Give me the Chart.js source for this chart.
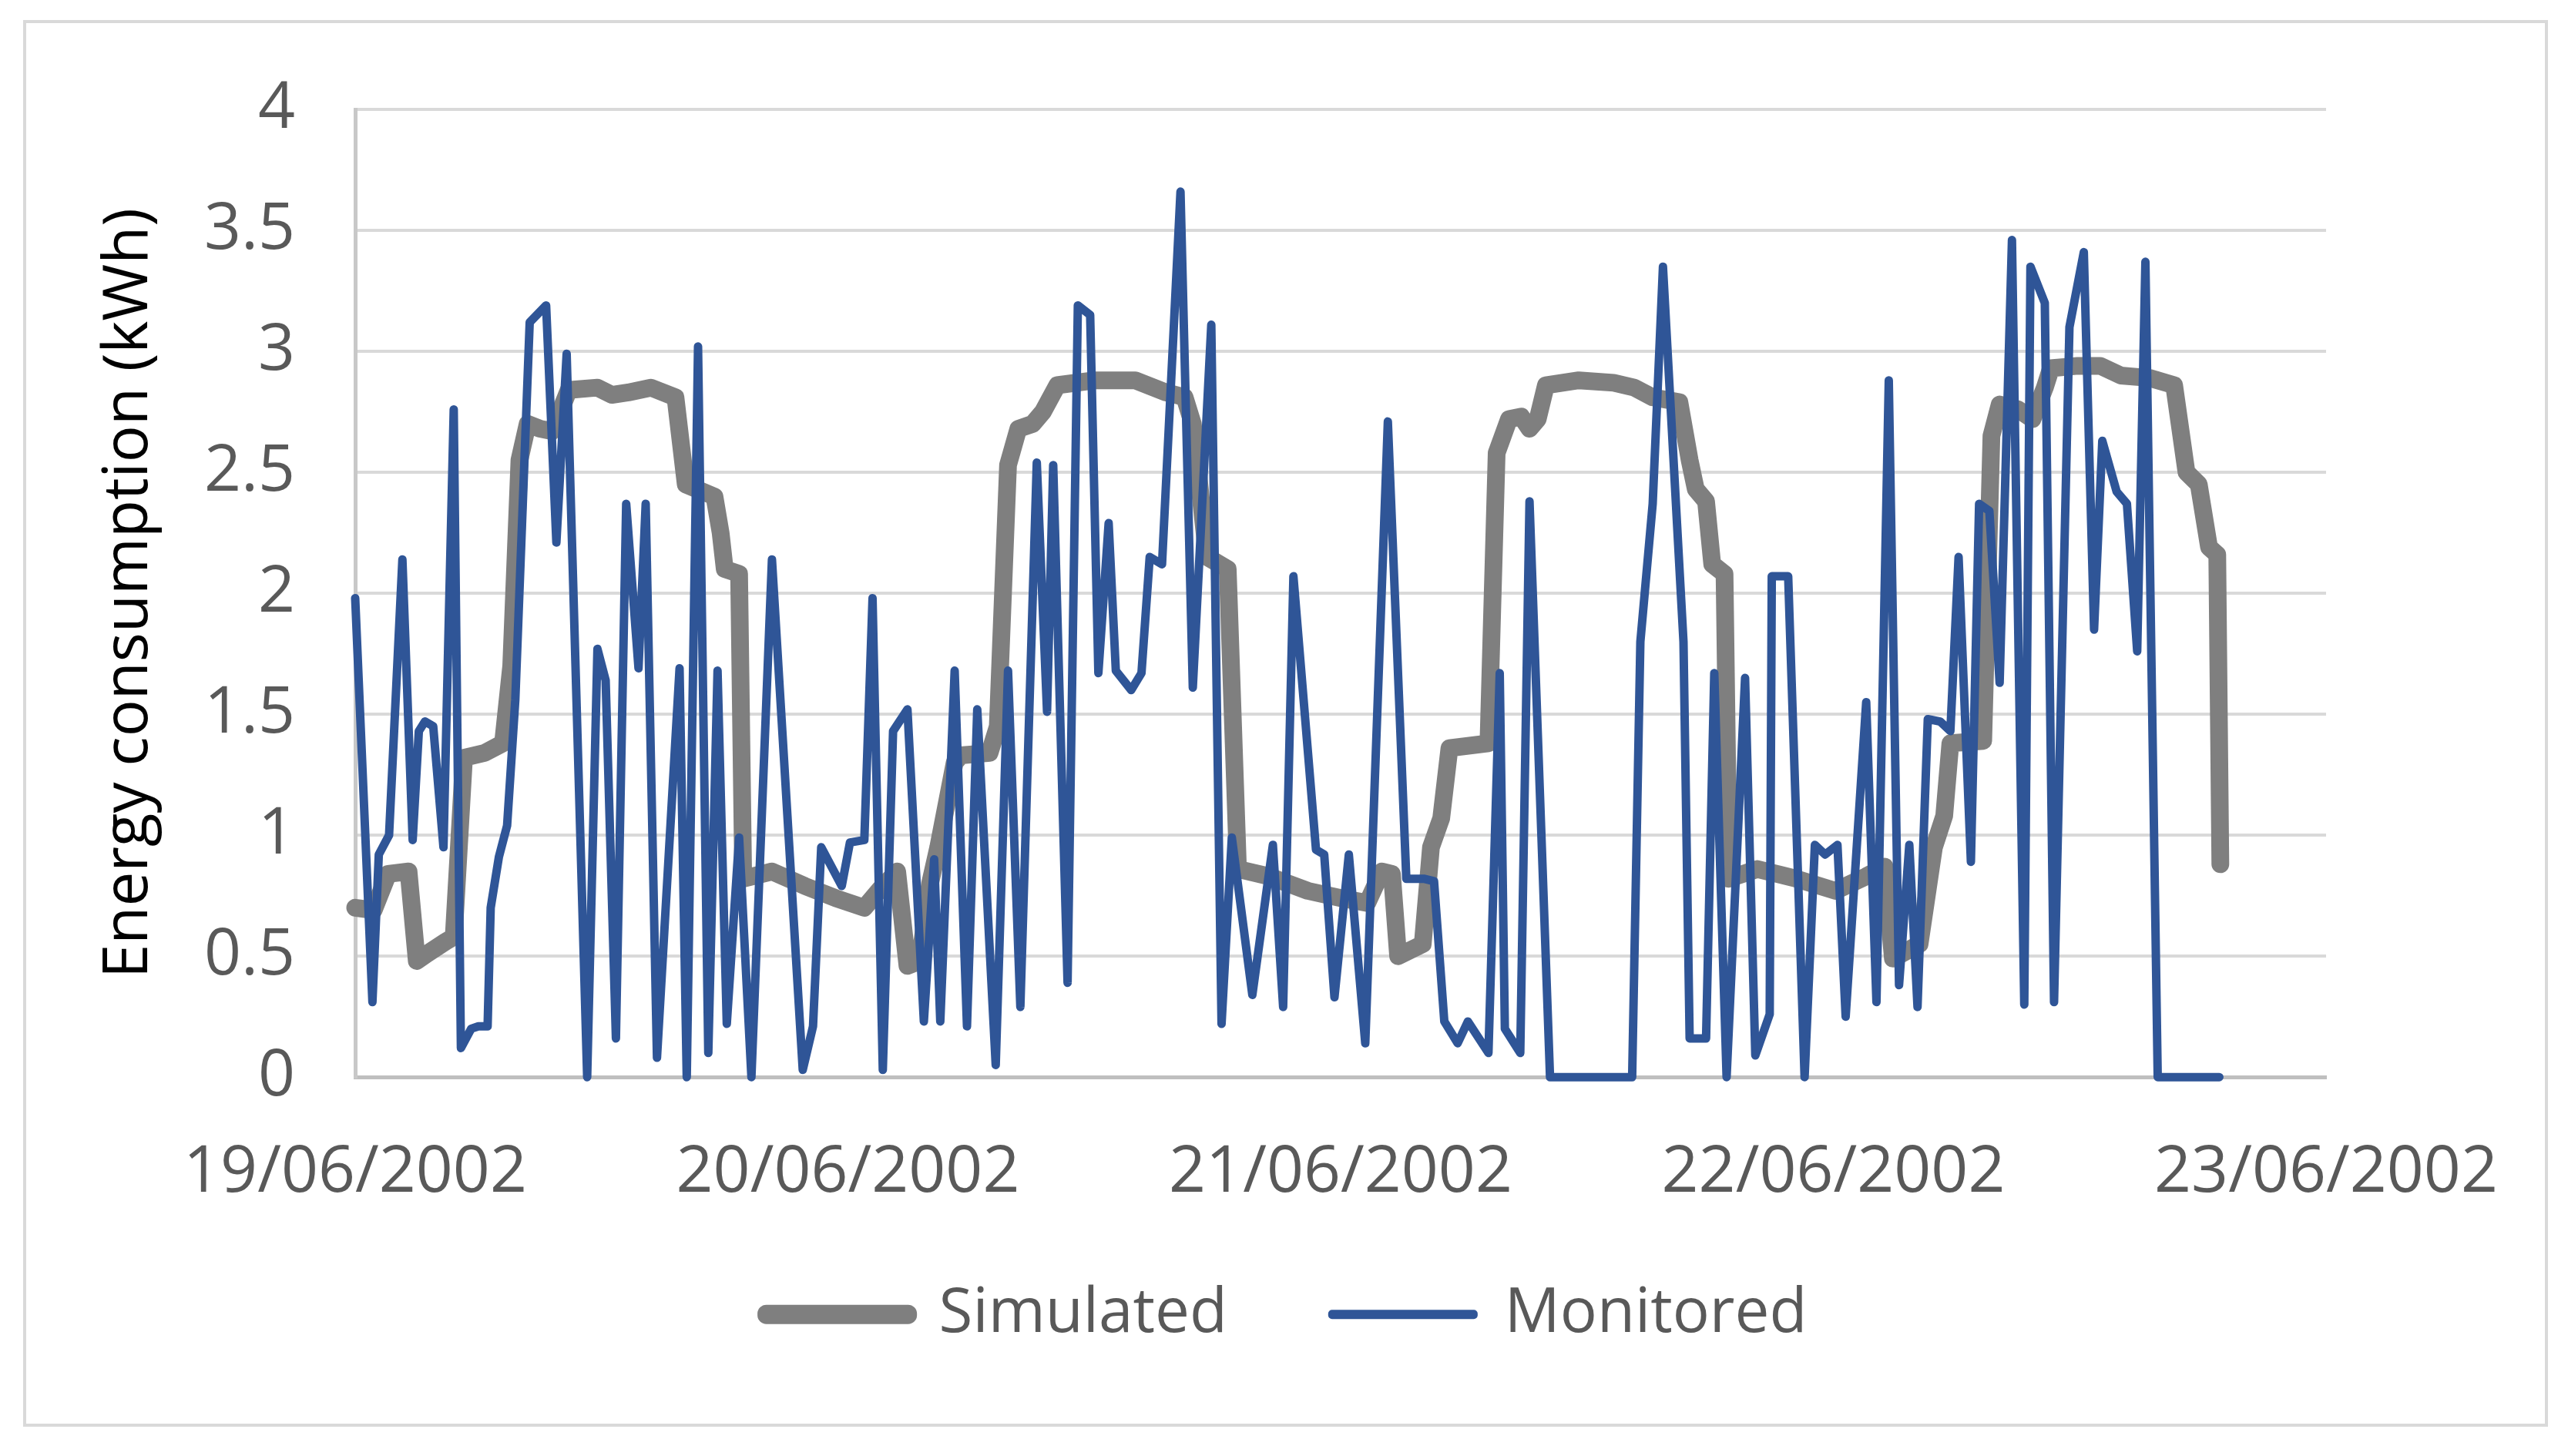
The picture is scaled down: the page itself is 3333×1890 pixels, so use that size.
<!DOCTYPE html>
<html>
<head>
<meta charset="utf-8">
<script src="https://cdn.jsdelivr.net/npm/chart.js@4.4.0/dist/chart.umd.min.js"></script>
<style>
  html, body { margin: 0; padding: 0; background: #fff; }
  #wrap { position: relative; width: 3333px; height: 1890px; }
  #frame { position: absolute; left: 30px; top: 26px; width: 3277px; height: 1826px; border: 4px solid #d9d9d9; box-sizing: border-box; }
  canvas { position: absolute; left: 0; top: 0; }
</style>
</head>
<body>
<div id="wrap">
  <div id="frame"></div>
  <canvas id="myChart" width="3333" height="1890"></canvas>
</div>
<script>
// x ticks, one per day (hours from 19/06 00:00)
const dayLabels = ["19/06/2002", "20/06/2002", "21/06/2002", "22/06/2002", "23/06/2002"];

// simulated series: hours since start, kWh
const simHours = [0, 0.9, 1.6, 2.6, 3.0, 3.5, 4.4, 4.8, 5.3, 6.3, 7.2, 7.6, 8.0, 8.4, 9.0, 9.6, 10.4, 11.8, 12.5, 13.3,
  14.4, 15.6, 16.1, 17.5, 17.8, 18.0, 18.7, 18.9, 20.3, 21.9, 23.4, 24.8, 25.6, 26.4, 26.9, 27.5, 28.0, 28.4, 29.2, 29.5,
  30.9, 31.3, 31.8, 32.3, 33.0, 33.5, 34.2, 36.0, 38.0, 39.5, 40.4, 40.8, 41.5, 42.5, 43.0, 44.5, 46.4, 48.0, 49.3, 50.0,
  50.5, 50.8, 52.0, 52.4, 52.9, 53.3, 55.2, 55.6, 56.2, 56.8, 57.2, 57.6, 58.0, 59.6, 61.3, 62.3, 63.2, 64.5, 65.0, 65.3,
  65.8, 66.1, 66.7, 66.9, 68.3, 70.2, 72.1, 73.6, 74.5, 74.9, 76.2, 76.9, 77.4, 77.7, 79.3, 79.7, 80.1, 81.0, 81.7, 82.3,
  82.6, 83.9, 85.0, 86.0, 87.4, 88.6, 89.2, 89.8, 90.3, 90.7, 90.85];
const simValues = [0.70, 0.69, 0.84, 0.85, 0.48, 0.51, 0.56, 0.58, 1.32, 1.34, 1.38, 1.70, 2.55, 2.70, 2.68, 2.67, 2.84, 2.85, 2.82, 2.83,
  2.85, 2.81, 2.45, 2.40, 2.25, 2.10, 2.08, 0.82, 0.85, 0.79, 0.74, 0.70, 0.78, 0.85, 0.46, 0.48, 0.80, 0.95, 1.30, 1.33,
  1.34, 1.45, 2.53, 2.68, 2.70, 2.75, 2.86, 2.88, 2.88, 2.83, 2.81, 2.70, 2.15, 2.10, 0.86, 0.83, 0.77, 0.74, 0.72, 0.85,
  0.84, 0.50, 0.55, 0.95, 1.07, 1.36, 1.38, 2.58, 2.72, 2.73, 2.68, 2.72, 2.86, 2.88, 2.87, 2.85, 2.81, 2.79, 2.55, 2.43,
  2.38, 2.12, 2.08, 0.82, 0.86, 0.82, 0.77, 0.83, 0.87, 0.49, 0.55, 0.95, 1.08, 1.38, 1.39, 2.65, 2.78, 2.76, 2.72, 2.85,
  2.93, 2.94, 2.94, 2.90, 2.89, 2.86, 2.50, 2.45, 2.19, 2.16, 0.88];

// monitored series: hours since start, kWh
const monHours = [0, 0.84, 1.15, 1.65, 2.3, 2.8, 3.1, 3.4, 3.8, 4.3, 4.8, 5.15, 5.65, 6.0, 6.45, 6.6, 7.0, 7.4, 7.8, 8.5,
  9.3, 9.8, 10.3, 11.3, 11.8, 12.2, 12.7, 13.2, 13.8, 14.15, 14.7, 15.8, 16.15, 16.7, 17.2, 17.65, 18.1, 18.7, 19.3, 20.3,
  21.8, 22.3, 22.7, 23.7, 24.1, 24.8, 25.2, 25.7, 26.2, 26.9, 27.7, 28.2, 28.5, 29.2, 29.8, 30.3, 31.2, 31.8, 32.4, 33.2,
  33.7, 34.0, 34.7, 35.2, 35.8, 36.2, 36.7, 37.05, 37.8, 38.3, 38.7, 39.3, 40.2, 40.8, 41.7, 42.2, 42.7, 43.7, 44.7, 45.2,
  45.7, 46.8, 47.2, 47.7, 48.4, 49.2, 50.3, 51.2, 52.05, 52.55, 53.05, 53.7, 54.2, 55.2, 55.75, 56.0, 56.75, 57.2, 58.2, 62.2,
  62.6, 63.2, 63.7, 64.7, 65.0, 65.8, 66.2, 66.8, 67.7, 68.2, 68.9, 69.0, 69.8, 70.6, 71.1, 71.6, 72.2, 72.6, 73.6, 74.1,
  74.7, 75.2, 75.7, 76.1, 76.6, 77.2, 77.7, 78.1, 78.7, 79.1, 79.6, 80.1, 80.7, 81.3, 81.6, 82.3, 82.75, 83.5, 84.2, 84.7,
  85.1, 85.8, 86.3, 86.8, 87.2, 87.8, 90.8];
const monValues = [1.98, 0.31, 0.92, 1.00, 2.14, 0.98, 1.43, 1.47, 1.45, 0.95, 2.76, 0.12, 0.20, 0.21, 0.21, 0.70, 0.91, 1.04, 1.56, 3.12,
  3.19, 2.21, 2.99, 0.00, 1.77, 1.64, 0.16, 2.37, 1.69, 2.37, 0.08, 1.69, 0.00, 3.02, 0.10, 1.68, 0.22, 0.99, 0.00, 2.14,
  0.03, 0.21, 0.95, 0.79, 0.97, 0.98, 1.98, 0.03, 1.43, 1.52, 0.23, 0.90, 0.23, 1.68, 0.21, 1.52, 0.05, 1.68, 0.29, 2.54,
  1.51, 2.53, 0.39, 3.19, 3.15, 1.67, 2.29, 1.68, 1.60, 1.67, 2.15, 2.12, 3.66, 1.61, 3.11, 0.22, 0.99, 0.34, 0.96, 0.29,
  2.07, 0.94, 0.92, 0.33, 0.92, 0.14, 2.71, 0.82, 0.82, 0.81, 0.23, 0.14, 0.23, 0.10, 1.67, 0.20, 0.10, 2.38, 0.00, 0.00,
  1.80, 2.37, 3.35, 1.80, 0.16, 0.16, 1.67, 0.00, 1.65, 0.09, 0.26, 2.07, 2.07, 0.00, 0.96, 0.92, 0.96, 0.25, 1.55, 0.31,
  2.88, 0.38, 0.96, 0.29, 1.48, 1.47, 1.43, 2.15, 0.89, 2.37, 2.34, 1.63, 3.46, 0.30, 3.35, 3.20, 0.31, 3.10, 3.41, 1.85,
  2.63, 2.42, 2.37, 1.76, 3.37, 0.00, 0.00];

const simPoints = simHours.map((h, i) => ({ x: h, y: simValues[i] }));
const monPoints = monHours.map((h, i) => ({ x: h, y: monValues[i] }));

const tickColor = '#595959';
const fontFamily = "'Open Sans', sans-serif";

// put the legend where Excel had it: centred on the chart box, a fixed gap under the plot
const legendPlace = {
  id: 'legendPlace',
  afterLayout(chart) {
    const l = chart.legend;
    const dx = 1670 - (l.left + l.right) / 2;
    l.left += dx;
    l.right += dx;
    const dy = chart.chartArea.bottom + 132 - l.top;
    l.top += dy;
    l.bottom += dy;
  }
};

const data = {
  datasets: [
    {
      label: 'Simulated',
      data: simPoints,
      borderColor: '#7f7f7f',
      backgroundColor: '#7f7f7f',
      borderWidth: 23,
      pointRadius: 0,
      tension: 0,
      borderJoinStyle: 'round',
      borderCapStyle: 'round',
      clip: false,
      order: 2
    },
    {
      label: 'Monitored',
      data: monPoints,
      borderColor: '#2f5597',
      backgroundColor: '#2f5597',
      borderWidth: 11,
      pointRadius: 0,
      tension: 0,
      borderJoinStyle: 'round',
      borderCapStyle: 'round',
      clip: false,
      order: 1
    }
  ]
};

const config = {
  type: 'line',
  data: data,
  plugins: [legendPlace],
  options: {
    responsive: false,
    animation: false,
    devicePixelRatio: 1,
    layout: { padding: { left: 60, right: 314, top: 142, bottom: 25 } },
    scales: {
      x: {
        type: 'linear',
        min: 0,
        max: 96,
        grid: { display: false },
        border: { display: true, color: '#bfbfbf', width: 5 },
        ticks: {
          stepSize: 24,
          autoSkip: false,
          maxRotation: 0,
          padding: 66,
          color: tickColor,
          font: { family: fontFamily, size: 84 },
          callback: (v) => dayLabels[Math.round(v / 24)]
        }
      },
      y: {
        min: 0,
        max: 4,
        grid: { color: '#d9d9d9', lineWidth: 4, drawTicks: false },
        border: { display: true, color: '#c8c8c8', width: 5 },
        ticks: {
          stepSize: 0.5,
          padding: 78,
          color: tickColor,
          font: { family: fontFamily, size: 84 },
          callback: (v) => String(v)
        },
        title: {
          display: true,
          text: 'Energy consumption (kWh)',
          color: '#000000',
          font: { family: fontFamily, size: 80 },
          padding: { top: 60, bottom: 0 }
        },
        afterFit: (s) => { s.width = 401; }
      }
    },
    plugins: {
      tooltip: { enabled: false },
      legend: {
        position: 'bottom',
        labels: {
          boxWidth: 184,
          boxHeight: 2,
          padding: 136,
          color: tickColor,
          font: { family: fontFamily, size: 80 },
          generateLabels(chart) {
            const items = Chart.defaults.plugins.legend.labels.generateLabels(chart);
            items.forEach(it => {
              const ds = chart.data.datasets[it.datasetIndex];
              it.fillStyle = ds.borderColor;
              it.strokeStyle = ds.borderColor;
              it.lineWidth = it.datasetIndex === 0 ? 23 : 10;
              it.lineJoin = 'round';
            });
            return items.sort((a, b) => a.datasetIndex - b.datasetIndex);
          }
        }
      }
    }
  }
};

var myChart = new Chart(document.getElementById('myChart'), config);
</script>
</body>
</html>
